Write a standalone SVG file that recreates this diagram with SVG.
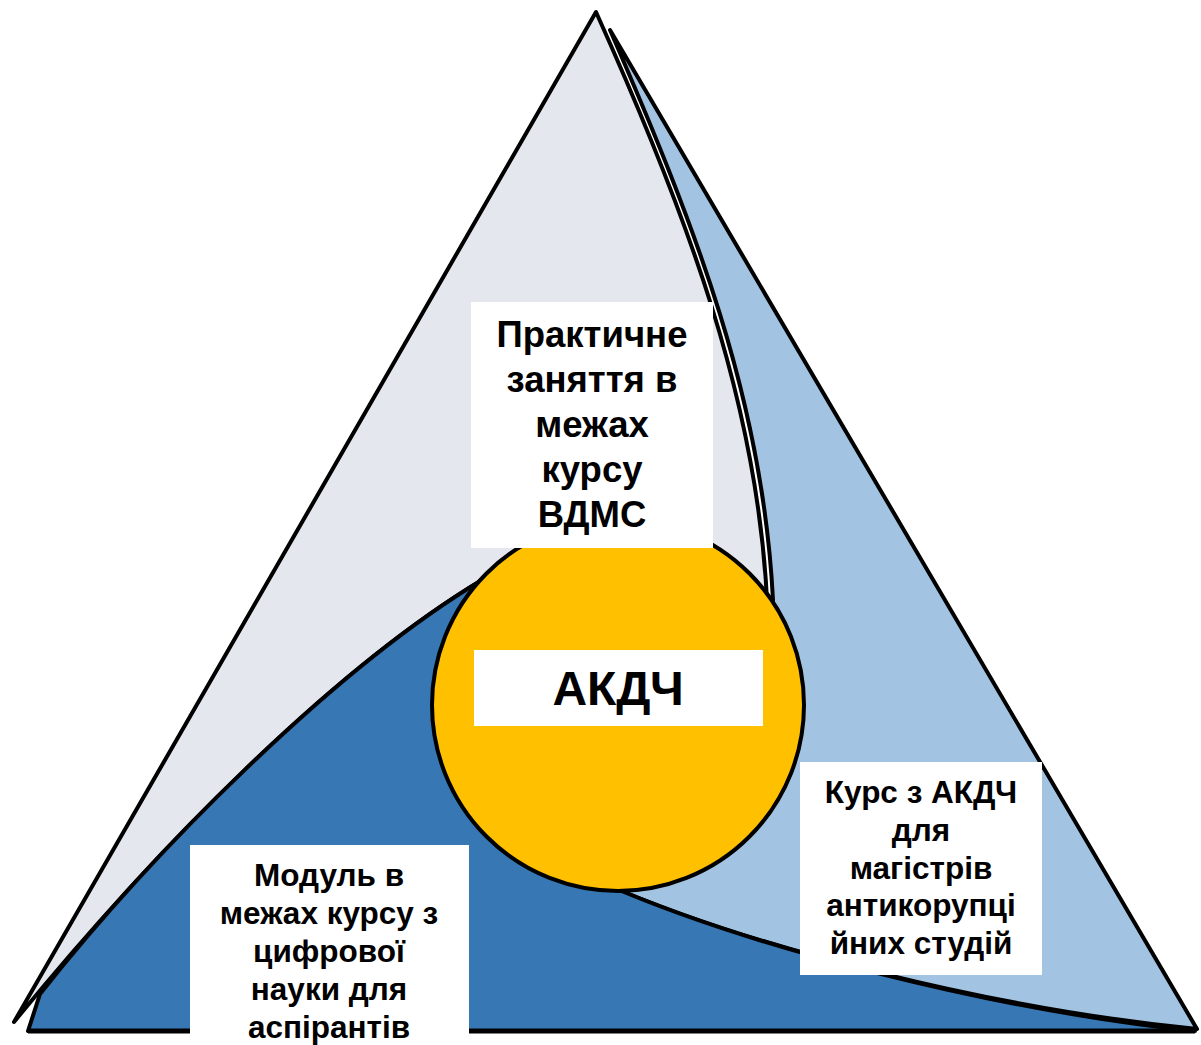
<svg xmlns="http://www.w3.org/2000/svg" width="1201" height="1045" viewBox="0 0 1201 1045">
<style>
.sh{stroke:#000;stroke-width:4;stroke-linejoin:round}
.box{fill:#fff}
.t{font-family:"Liberation Sans",Arial,sans-serif;font-weight:bold;fill:#000;text-anchor:middle}
</style>
<rect width="1201" height="1045" fill="#fff"/>
<g id="grey-segment">
<path class="sh" fill="#E4E8EE" d="M596,12 L14,1022 C150,855 332,670 482,580 L618,705 L767,600 C757,400 686,212 596,12 Z"/>
</g>
<g id="lightblue-segment">
<path class="sh" fill="#A2C4E2" d="M610,30 L1197,1029 C995,1009 755,949 605,884 L618,705 L773,600 C763,400 695,225 610,30 Z"/>
</g>
<g id="darkblue-segment">
<path class="sh" fill="#3677B4" d="M28,1031 L1195,1031 C995,1010 755,949 605,884 L618,705 L482,580 C332,670 150,855 40,994 Z"/>
<line x1="28" y1="1031" x2="1195" y2="1031" stroke="#000" stroke-width="5"/>
</g>
<g id="center-circle">
<circle cx="618" cy="705" r="186" fill="#FFC000" stroke="#000" stroke-width="4"/>
</g>
<g id="label-top">
<rect class="box" x="471" y="302" width="242" height="246"/>
<text class="t" font-size="36.5"><tspan x="592" y="347">Практичне</tspan><tspan x="592" y="392">заняття в</tspan><tspan x="592" y="437">межах</tspan><tspan x="592" y="482">курсу</tspan><tspan x="592" y="527">ВДМС</tspan></text>
</g>
<g id="label-center">
<rect class="box" x="474" y="650" width="289" height="76"/>
<text class="t" font-size="48" x="618" y="705">АКДЧ</text>
</g>
<g id="label-right">
<rect class="box" x="800" y="762" width="242" height="213"/>
<text class="t" font-size="31.5"><tspan x="921" y="803">Курс з АКДЧ</tspan><tspan x="921" y="841">для</tspan><tspan x="921" y="879">магістрів</tspan><tspan x="921" y="916">антикорупці</tspan><tspan x="921" y="954">йних студій</tspan></text>
</g>
<g id="label-left">
<rect class="box" x="190" y="845" width="279" height="200"/>
<text class="t" font-size="31.5"><tspan x="329" y="886">Модуль в</tspan><tspan x="329" y="924">межах курсу з</tspan><tspan x="329" y="962">цифрової</tspan><tspan x="329" y="1000">науки для</tspan><tspan x="329" y="1038">аспірантів</tspan></text>
</g>
</svg>
